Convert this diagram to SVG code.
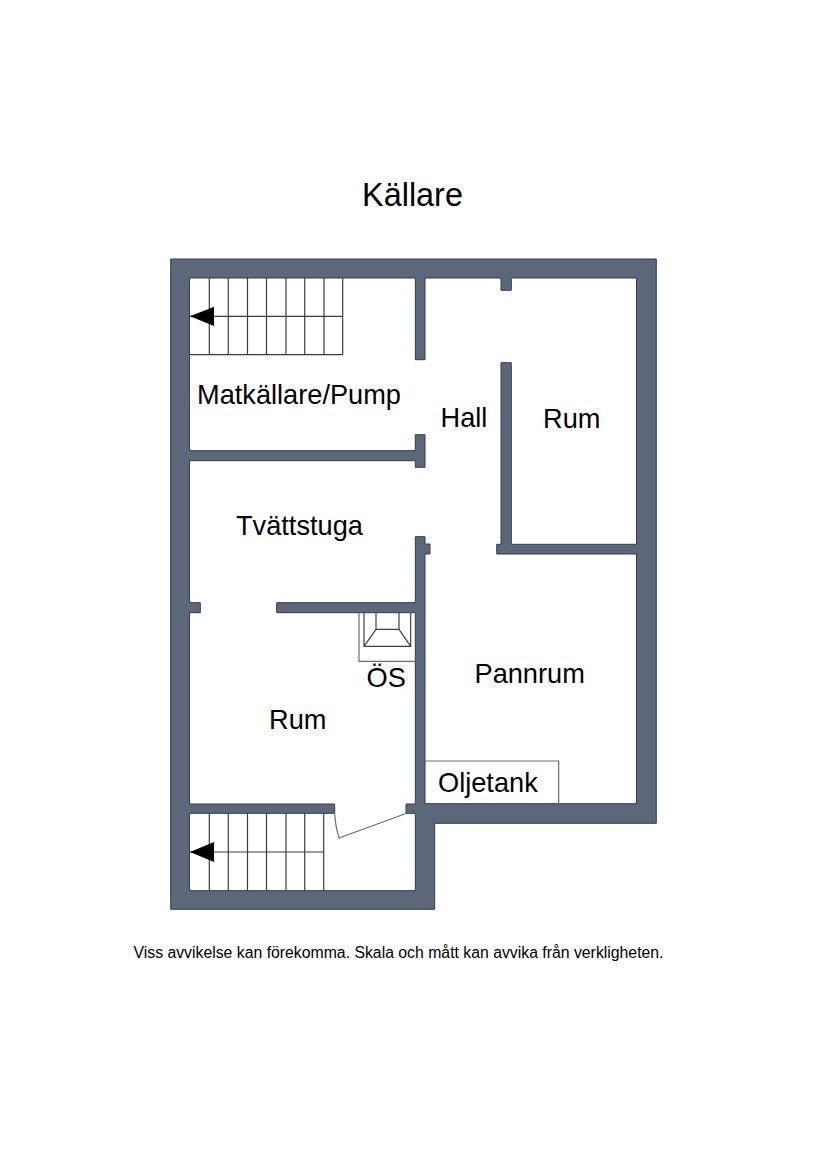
<svg xmlns="http://www.w3.org/2000/svg" width="825" height="1166" viewBox="0 0 825 1166">
<style>
text{font-family:"Liberation Sans",Arial,sans-serif;fill:#000}
.room{font-size:27.2px}
.wall{fill:#5c6879;stroke:#333c4a;stroke-width:1;fill-rule:evenodd}
.stair{fill:none;stroke:#3c3c3c;stroke-width:1.2}
.thin{fill:none;stroke:#6e6e6e;stroke-width:1.2}
.fix{fill:none;stroke:#404040;stroke-width:1.2}
</style>
<rect width="825" height="1166" fill="#fff"/>
<text x="412.5" y="206" font-size="32.4" text-anchor="middle">Källare</text>
<g id="walls">
<path class="wall" d="M170.7 259H656.300V823.3H434.7V909.3H170.7Z M189.5 278H415.3V359.7H425V278H501V290.3H511.3V278H636.5V544.3H511.3V362.7H501V544.3H496.7V554H636.5V803.7H425V554H430V544H425V536.7H415.3V602.7H276.7V612.7H415.3V804H406V813.3H415.3V890.7H189.5V813.3H334.7V804H189.5V612.7H200.3V602.7H189.5V460.7H415.3V467.3H425V434.7H415.3V450.7H189.5Z"/>
</g>
<g id="stairs-top">
<path class="stair" d="M209.3 278V354.7M228.3 278V354.7M247.5 278V354.7M266.5 278V354.7M286 278V354.7M304.7 278V354.7M324 278V354.7M342.7 278V354.7M190 316.3H342.7M190 354.7H342.7"/>
<polygon points="190,316.3 214,306.7 214,326" fill="#000"/>
</g>
<g id="stairs-bottom">
<path class="stair" d="M209.3 813.3V890.7M228.3 813.3V890.7M247.5 813.3V890.7M266.5 813.3V890.7M286 813.3V890.7M304.7 813.3V890.7M323.7 813.3V890.7M190 852H323.7"/>
<polygon points="190,852 214,842 214,862" fill="#000"/>
</g>
<g id="door">
<path class="thin" d="M334.7 813.3Q335.5 827 339 838L406 813.5"/>
</g>
<g id="fireplace">
<path class="thin" d="M359 612.7V661.3H415.3"/>
<path class="fix" d="M364 612.7V646.3H410.7V612.7M376 612.7V629.3H399V612.7M376 629.3L364 646.3M399 629.3L410.7 646.3"/>
</g>
<g id="oljetank">
<path class="thin" d="M425 761H558.7V803.7"/>
</g>
<g id="labels">
<text class="room" x="197" y="404">Matkällare/Pump</text>
<text class="room" x="440.5" y="427">Hall</text>
<text class="room" x="543" y="428">Rum</text>
<text class="room" x="236" y="535">Tvättstuga</text>
<text class="room" x="366.5" y="687">ÖS</text>
<text class="room" x="474.5" y="683">Pannrum</text>
<text class="room" x="269" y="729">Rum</text>
<text class="room" x="438" y="792">Oljetank</text>
</g>
<text x="398.5" y="958" font-size="15.8" text-anchor="middle">Viss avvikelse kan förekomma. Skala och mått kan avvika från verkligheten.</text>
</svg>
